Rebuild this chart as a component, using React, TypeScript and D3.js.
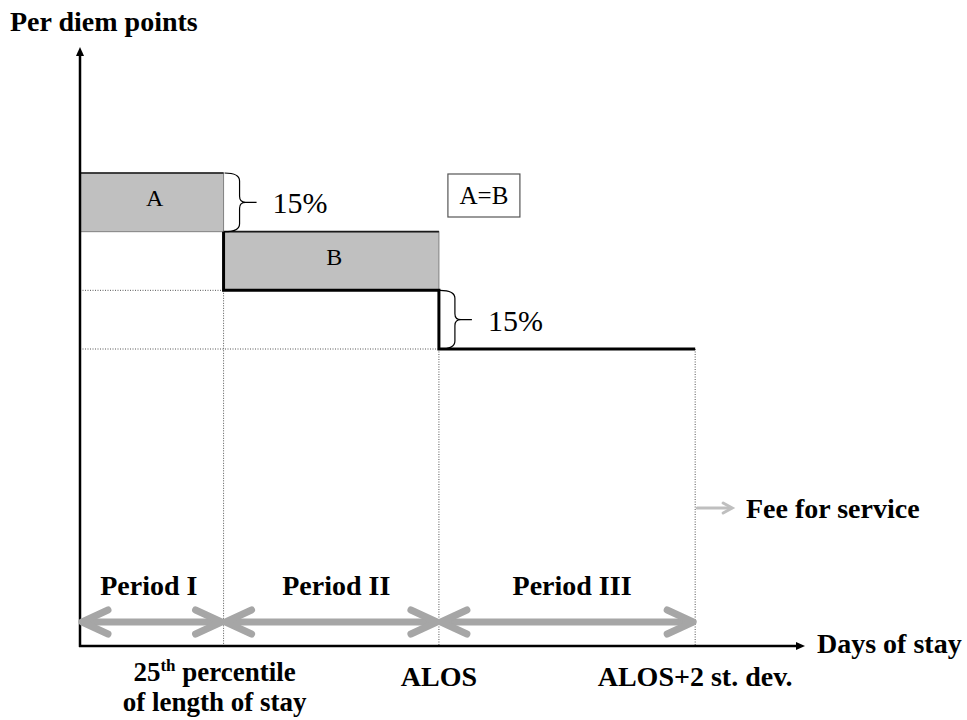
import React from "react";
import * as d3 from "d3";

// ---- data ----
const boundaryDays = [0, 2, 5, 8.57]; // start, 25th pct, ALOS, ALOS+2sd
const boundaryLabels = ["", "25th percentile|of length of stay", "ALOS", "ALOS+2 st. dev."];
const periodNames = ["Period I", "Period II", "Period III"];
const periodRates = [115, 100, 85]; // per diem points paid in each period
const shadedLabels = ["A", "B"];
const shadedPeriod = [0, 1];
const shadedBottom = [115, 100];
const shadedTop = [130, 115];
const braceBoundary = [1, 2];
const braceFrom = [130, 100];
const braceTo = [115, 85];
const braceLabels = ["15%", "15%"];

const W = 967;
const H = 720;
const FONT = "'Liberation Serif', 'Times New Roman', serif";
const BOLD = 28;

export default function App() {
  const x = d3.scaleLinear().domain([0, 10.1]).range([80, 805]);
  const y = d3.scaleLinear().domain([85, 130]).range([349, 173]);
  const axisY = 646;
  const axisTop = 47;
  const arrowY = 622;

  const bx = boundaryDays.map((d) => x(d));

  const bracePath = (x0: number, y0: number, y1: number) => {
    const xm = x0 + 15;
    const xt = x0 + 32;
    const ym = (y0 + y1) / 2;
    return `M${x0},${y0} Q${xm},${y0} ${xm},${y0 + 8} L${xm},${ym - 6} Q${xm},${ym} ${xm + 6},${ym} L${xt},${ym} M${xm + 6},${ym} Q${xm},${ym} ${xm},${ym + 6} L${xm},${y1 - 8} Q${xm},${y1} ${x0},${y1}`;
  };

  const step = d3.line<[number, number]>()([
    [bx[1], y(periodRates[0])],
    [bx[1], y(periodRates[1])],
    [bx[2], y(periodRates[1])],
    [bx[2], y(periodRates[2])],
    [bx[3], y(periodRates[2])],
  ]) as string;

  return (
    <svg width={W} height={H} style={{ position: "absolute", left: 0, top: 0, background: "#fff" }} fontFamily={FONT}>
      {/* title */}
      <text x={10} y={31} fontSize={BOLD} fontWeight="bold">Per diem points</text>

      {/* shaded areas */}
      {shadedLabels.map((lab, i) => {
        const p = shadedPeriod[i];
        const x0 = bx[p], x1 = bx[p + 1];
        const yt = y(shadedTop[i]), yb = y(shadedBottom[i]);
        return (
          <g key={lab}>
            <rect x={x0} y={yt} width={x1 - x0} height={yb - yt} fill="#c0c0c0" stroke="#808080" strokeWidth={1} />
            <line x1={x0} x2={x1} y1={yt} y2={yt} stroke="#1a1a1a" strokeWidth={1.6} />
            <text x={(x0 + x1) / 2 + 3} y={(yt + yb) / 2 + 4} fontSize={24} textAnchor="middle">{lab}</text>
          </g>
        );
      })}

      {/* dotted guides */}
      <g stroke="#555" strokeWidth={1} strokeDasharray="1,1.5" fill="none">
        <line x1={bx[0]} x2={bx[1]} y1={y(periodRates[1])} y2={y(periodRates[1])} />
        <line x1={bx[0]} x2={bx[2]} y1={y(periodRates[2])} y2={y(periodRates[2])} />
        <line x1={bx[1]} x2={bx[1]} y1={y(periodRates[1])} y2={axisY} />
        <line x1={bx[2]} x2={bx[2]} y1={y(periodRates[2])} y2={axisY} />
        <line x1={bx[3]} x2={bx[3]} y1={y(periodRates[2])} y2={axisY} />
      </g>

      {/* step line */}
      <path d={step} fill="none" stroke="#000" strokeWidth={3} />

      {/* braces */}
      {braceLabels.map((lab, i) => {
        const x0 = bx[braceBoundary[i]] + 1;
        const y0 = y(braceFrom[i]);
        const y1 = y(braceTo[i]);
        return (
          <g key={i}>
            <path d={bracePath(x0, y0, y1)} fill="none" stroke="#000" strokeWidth={1.2} />
            <text x={x0 + 48} y={(y0 + y1) / 2 + 11} fontSize={30}>{lab}</text>
          </g>
        );
      })}

      {/* A=B box */}
      <rect x={bx[2] + 9} y={y(130) + 1} width={72} height={43} fill="#fff" stroke="#555" strokeWidth={1.2} />
      <text x={bx[2] + 45} y={y(130) + 31} fontSize={25} textAnchor="middle">A=B</text>

      {/* axes */}
      <line x1={80} x2={80} y1={axisY + 1} y2={axisTop + 8} stroke="#000" strokeWidth={2.5} />
      <path d={`M${80},${axisTop} L${84},${axisTop + 9} L${76},${axisTop + 9} Z`} fill="#000" />
      <line x1={79} x2={x(10.1) - 8} y1={axisY} y2={axisY} stroke="#000" strokeWidth={2.5} />
      <path d={`M${x(10.1)},${axisY} L${x(10.1) - 9},${axisY - 4} L${x(10.1) - 9},${axisY + 4} Z`} fill="#000" />
      <text x={817} y={653} fontSize={BOLD} fontWeight="bold">Days of stay</text>

      {/* period arrows */}
      {periodNames.map((name, i) => {
        const a = bx[i] + 2, b = bx[i + 1] - 2;
        return (
          <g key={name}>
            <g stroke="#a6a6a6" strokeWidth={7} strokeLinecap="round" strokeLinejoin="round" fill="none">
              <line x1={a + 3} x2={b - 3} y1={arrowY} y2={arrowY} />
              <path d={`M${a + 26},${arrowY - 12} L${a},${arrowY} L${a + 26},${arrowY + 12}`} />
              <path d={`M${b - 26},${arrowY - 12} L${b},${arrowY} L${b - 26},${arrowY + 12}`} />
            </g>
            <text x={(bx[i] + bx[i + 1]) / 2 + (i === 0 ? -3 : 5)} y={595} fontSize={BOLD} fontWeight="bold" textAnchor="middle">{name}</text>
          </g>
        );
      })}

      {/* fee for service */}
      <g stroke="#bfbfbf" strokeWidth={3} fill="none" strokeLinecap="round">
        <line x1={bx[3] + 2} x2={bx[3] + 36} y1={508} y2={508} />
        <path d={`M${bx[3] + 28},${503} L${bx[3] + 37},${508} L${bx[3] + 28},${513}`} />
      </g>
      <text x={746} y={518} fontSize={BOLD} fontWeight="bold">Fee for service</text>

      {/* boundary labels */}
      {boundaryLabels.map((lab, i) => {
        if (!lab) return null;
        const parts = lab.split("|");
        if (parts.length > 1) {
          const m = parts[0].match(/^(\d+)(th)(.*)$/);
          const cx = bx[i] - 9;
          return (
            <g key={i}>
              <text x={cx} y={681} fontSize={27} fontWeight="bold" textAnchor="middle">
                {m ? (
                  <>
                    {m[1]}
                    <tspan dy={-10} fontSize={17}>{m[2]}</tspan>
                    <tspan dy={10}>{m[3]}</tspan>
                  </>
                ) : parts[0]}
              </text>
              <text x={cx} y={711} fontSize={27} fontWeight="bold" textAnchor="middle">{parts[1]}</text>
            </g>
          );
        }
        return (
          <text key={i} x={bx[i]} y={686} fontSize={BOLD} fontWeight="bold" textAnchor="middle">{lab}</text>
        );
      })}
    </svg>
  );
}
